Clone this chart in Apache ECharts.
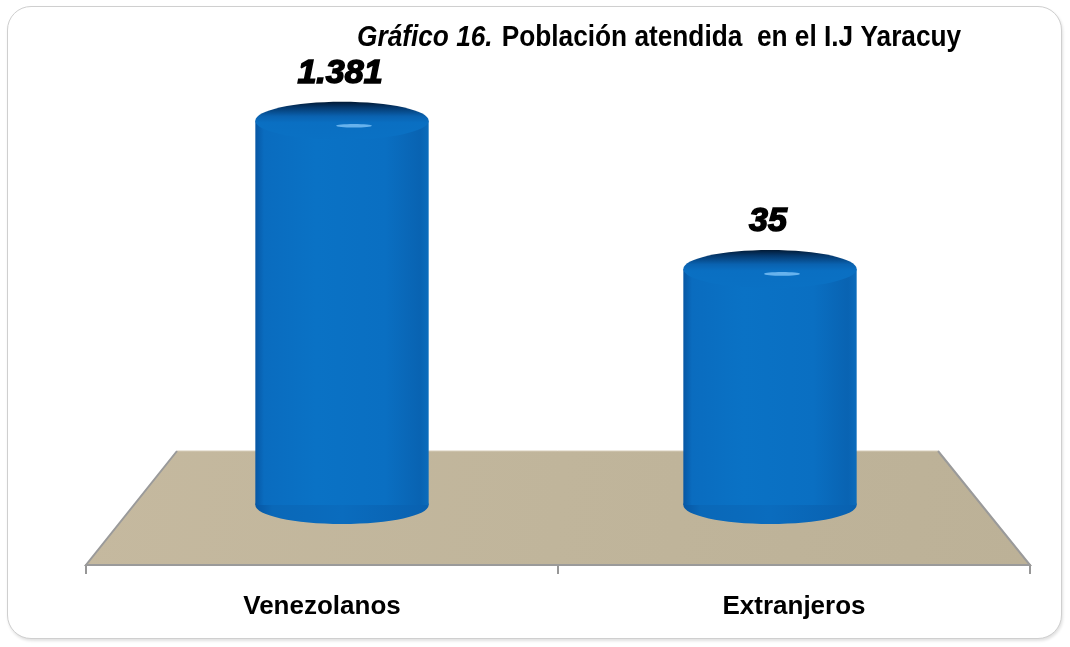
<!DOCTYPE html>
<html>
<head>
<meta charset="utf-8">
<script src="https://cdn.jsdelivr.net/npm/echarts@6/dist/echarts.min.js"></script>
<style>
  html, body { margin: 0; padding: 0; background: #ffffff; }
  #frame { position: absolute; left: 7px; top: 6px; width: 1053px; height: 631px;
           border: 1.5px solid #cfcfcf; border-radius: 24px; background: #ffffff;
           box-shadow: 1px 2px 3px rgba(0,0,0,0.12); }
  #chart { position: absolute; left: 0; top: 0; width: 1070px; height: 647px; }
</style>
</head>
<body>
<div id="frame"></div>
<div id="chart"></div>
<script>
// ---- data ----
const categories = ['Venezolanos', 'Extranjeros'];
const values = [1381, 35];
const titleMain = 'Gráfico 16.';
const titleRest = 'Población atendida  en el I.J Yaracuy';
const Y_MIN = 0.1;
const Y_MAX = 10000;

function fmt(v) {
  return String(v).replace(/\B(?=(\d{3})+(?!\d))/g, '.');
}

const chart = echarts.init(document.getElementById('chart'), null, { renderer: 'canvas' });

const cylData = values.map((v, i) => [i, v]);

const option = {
  backgroundColor: 'transparent',
  animation: false,
  graphic: [
    {
      type: 'text',
      x: 357,
      y: 23,
      scaleX: 0.905,
      style: {
        text: '{a|' + titleMain + '}   {b|' + titleRest + '}',
        rich: {
          a: { fontFamily: '"Liberation Sans", Arial', fontSize: 29, fontWeight: 'bold', fontStyle: 'italic', fill: '#000' },
          b: { fontFamily: '"Liberation Sans", Arial', fontSize: 29, fontWeight: 'bold', fill: '#000' }
        }
      }
    }
  ],
  grid: [
    { left: 86, right: 40, top: 100, bottom: 82 },   // floor / category axis
    { left: 128, right: 86, top: 41, bottom: 142 }   // cylinder depth plane
  ],
  xAxis: [
    {
      gridIndex: 0, type: 'category', data: categories,
      axisLine: { show: true, lineStyle: { color: '#979797', width: 2 } },
      axisTick: { show: true, length: 9, lineStyle: { color: '#979797', width: 2 } },
      axisLabel: { margin: 29, color: '#000', fontSize: 26, fontWeight: 'bold',
                   fontFamily: '"Liberation Sans", Arial' }
    },
    {
      gridIndex: 1, type: 'category', data: categories, show: false
    }
  ],
  yAxis: [
    { gridIndex: 0, type: 'value', show: false, min: 0, max: 1 },
    { gridIndex: 1, type: 'log', show: false, min: Y_MIN, max: Y_MAX, logBase: 10 }
  ],
  series: [
    {
      type: 'custom',
      xAxisIndex: 0, yAxisIndex: 0,
      z: 1,
      silent: true,
      data: [[0, 0]],
      renderItem: function (params, api) {
        const cs = params.coordSys;
        const fy = cs.y + cs.height;
        const by = fy - 114;
        const pts = [
          [cs.x, fy], [cs.x + 91, by], [cs.x + cs.width - 92, by], [cs.x + cs.width, fy]
        ];
        return {
          type: 'group',
          children: [
            {
              type: 'polygon',
              shape: { points: pts },
              style: {
                fill: new echarts.graphic.LinearGradient(0, 0, 1, 1, [
                  { offset: 0, color: '#c5b99f' },
                  { offset: 0.5, color: '#c0b59b' },
                  { offset: 1, color: '#bcb197' }
                ]),
                stroke: '#d6ccb8', lineWidth: 1
              }
            },
            {
              type: 'polyline',
              shape: { points: [pts[1], pts[0], pts[3], pts[2]] },
              style: { stroke: '#9a9a9a', lineWidth: 2, fill: null }
            }
          ]
        };
      }
    },
    {
      type: 'custom',
      xAxisIndex: 1, yAxisIndex: 1,
      z: 3,
      data: cylData,
      encode: { x: 0, y: 1 },
      renderItem: function (params, api) {
        const idx = api.value(0);
        const v = api.value(1);
        const top = api.coord([idx, v]);
        const base = api.coord([idx, Y_MIN]);
        const w = api.size([1, 1])[0] * 0.405;
        const rx = w / 2;
        const ry = 19;
        const cx = top[0];
        const bodyGrad = new echarts.graphic.LinearGradient(0, 0, 1, 0, [
          { offset: 0, color: '#0757a4' },
          { offset: 0.05, color: '#0a6cbf' },
          { offset: 0.35, color: '#0a72c5' },
          { offset: 0.75, color: '#0a6fc2' },
          { offset: 0.95, color: '#0963b2' },
          { offset: 1, color: '#0b6cbc' }
        ]);
        const capGrad = new echarts.graphic.LinearGradient(0, 0, 0, 1, [
          { offset: 0, color: '#021a35' },
          { offset: 0.15, color: '#05396e' },
          { offset: 0.38, color: '#0a62b0' },
          { offset: 0.55, color: '#0a6fc2' },
          { offset: 1, color: '#0a71c4' }
        ]);
        return {
          type: 'group',
          children: [
            {
              type: 'ellipse',
              shape: { cx: cx, cy: base[1], rx: rx, ry: ry },
              style: {
                fill: new echarts.graphic.LinearGradient(0, 0, 1, 0, [
                  { offset: 0, color: '#0757a4' },
                  { offset: 0.1, color: '#0a68b8' },
                  { offset: 0.5, color: '#0a6cbe' },
                  { offset: 1, color: '#0961b0' }
                ])
              }
            },
            {
              type: 'rect',
              shape: { x: cx - rx, y: top[1], width: w, height: base[1] - top[1] },
              style: { fill: bodyGrad }
            },
            {
              type: 'ellipse',
              shape: { cx: cx, cy: top[1], rx: rx, ry: ry },
              style: { fill: capGrad }
            },
            {
              type: 'ellipse',
              shape: { cx: cx + 12, cy: top[1] + 5, rx: 18, ry: 1.8 },
              style: { fill: 'rgba(120,190,245,0.85)' }
            },
            {
              type: 'text',
              x: cx - 2,
              y: top[1] - ry - 28,
              style: {
                text: fmt(v),
                fill: '#000',
                font: 'italic 900 34px "Liberation Sans", Arial',
                stroke: '#000',
                lineWidth: 1.6,
                align: 'center',
                verticalAlign: 'middle'
              }
            }
          ]
        };
      }
    }
  ]
};
chart.setOption(option);
</script>
</body>
</html>
